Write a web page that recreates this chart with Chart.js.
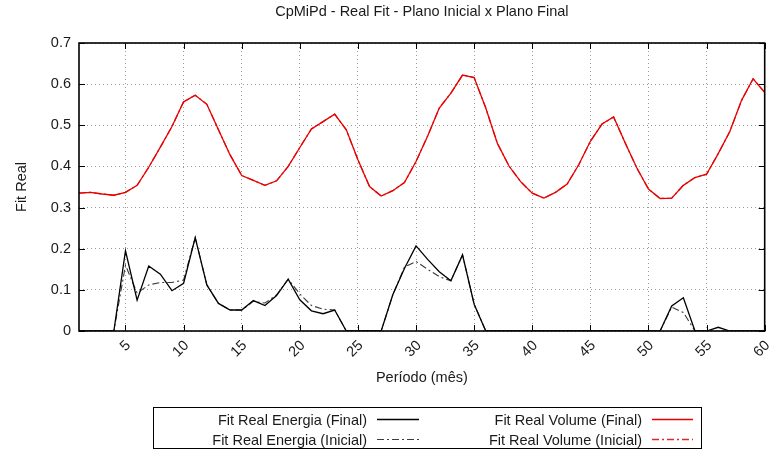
<!DOCTYPE html>
<html>
<head>
<meta charset="utf-8">
<script src="https://cdn.jsdelivr.net/npm/chart.js@4/dist/chart.umd.min.js"></script>
<style>
html,body{margin:0;padding:0;background:#fff;}
#wrap{width:783px;height:466px;position:relative;}
</style>
</head>
<body>
<div id="wrap"><canvas id="c" width="783" height="466"></canvas></div>
<script>
const periods = [1,2,3,4,5,6,7,8,9,10,11,12,13,14,15,16,17,18,19,20,21,22,23,24,25,26,27,28,29,30,31,32,33,34,35,36,37,38,39,40,41,42,43,44,45,46,47,48,49,50,51,52,53,54,55,56,57,58,59,60];
const xTicks = [5,10,15,20,25,30,35,40,45,50,55,60];
const yTicks = [0,0.1,0.2,0.3,0.4,0.5,0.6,0.7];

const energiaFinal = [0,0,0,0,0.195,0.075,0.158,0.138,0.098,0.116,0.227,0.112,0.067,0.051,0.051,0.074,0.062,0.086,0.126,0.076,0.049,0.042,0.051,0,0,0,0,0.088,0.152,0.207,0.174,0.144,0.122,0.185,0.065,0,0,0,0,0,0,0,0,0,0,0,0,0,0,0,0,0.061,0.081,0,0,0.009,0,0,0,0];
const energiaInicial = [0,0,0,0,0.160,0.092,0.112,0.118,0.118,0.124,0.227,0.112,0.067,0.051,0.051,0.072,0.068,0.088,0.126,0.090,0.062,0.053,0.051,0,0,0,0,0.088,0.155,0.169,0.150,0.132,0.122,0.185,0.065,0,0,0,0,0,0,0,0,0,0,0,0,0,0,0,0,0.058,0.045,0,0,0,0,0,0,0];
const volumeFinal = [0.335,0.337,0.333,0.330,0.337,0.354,0.398,0.447,0.497,0.557,0.573,0.551,0.489,0.428,0.378,0.366,0.354,0.365,0.400,0.446,0.491,0.509,0.527,0.489,0.416,0.351,0.328,0.341,0.361,0.412,0.474,0.542,0.578,0.622,0.616,0.542,0.456,0.401,0.363,0.335,0.323,0.337,0.357,0.404,0.461,0.503,0.520,0.457,0.396,0.345,0.322,0.323,0.354,0.373,0.381,0.431,0.485,0.560,0.613,0.580];
const volumeInicial = [0.335,0.337,0.333,0.330,0.337,0.354,0.398,0.447,0.497,0.557,0.573,0.551,0.489,0.428,0.378,0.366,0.354,0.365,0.400,0.446,0.491,0.509,0.527,0.489,0.416,0.351,0.328,0.341,0.361,0.412,0.474,0.542,0.578,0.622,0.616,0.542,0.456,0.401,0.363,0.335,0.323,0.337,0.357,0.404,0.461,0.503,0.520,0.457,0.396,0.345,0.322,0.323,0.354,0.373,0.381,0.431,0.485,0.560,0.613,0.580];

const FONT = 'Liberation Sans, Arial, Helvetica, sans-serif';
const FS = 14.5;
Chart.defaults.font.family = FONT;
Chart.defaults.font.size = FS;
Chart.defaults.color = '#1a1a1a';

const pts = arr => periods.map((p, i) => ({x: p, y: arr[i]}));

const frameTicks = {
  id: 'frameTicks',
  afterDatasetsDraw(chart) {
    const {ctx, chartArea: a, scales} = chart;
    ctx.save();
    ctx.strokeStyle = '#000';
    ctx.lineWidth = 1;
    const L = 6;
    xTicks.forEach(v => {
      const x = Math.round(scales.x.getPixelForValue(v)) + 0.5;
      ctx.beginPath();
      ctx.moveTo(x, a.bottom); ctx.lineTo(x, a.bottom - L);
      ctx.moveTo(x, a.top); ctx.lineTo(x, a.top + L);
      ctx.stroke();
    });
    yTicks.forEach(v => {
      const y = Math.round(scales.y.getPixelForValue(v)) + 0.5;
      ctx.beginPath();
      ctx.moveTo(a.left, y); ctx.lineTo(a.left + L, y);
      ctx.moveTo(a.right, y); ctx.lineTo(a.right - L, y);
      ctx.stroke();
    });
    ctx.lineWidth = 1.6;
    ctx.strokeRect(a.left, a.top, a.right - a.left, a.bottom - a.top);
    ctx.restore();
  }
};

const boxLegend = {
  id: 'boxLegend',
  afterDraw(chart) {
    const {ctx} = chart;
    const box = {l: 153.5, t: 407.5, r: 701.5, b: 448.5};
    ctx.save();
    ctx.setLineDash([]);
    ctx.strokeStyle = '#000';
    ctx.lineWidth = 1;
    ctx.strokeRect(box.l, box.t, box.r - box.l, box.b - box.t);
    const cols = [{textRight: 367, s0: 377, s1: 419}, {textRight: 642, s0: 652, s1: 693}];
    const rows = [419.5, 439.5];
    // [row, col] for each dataset, in dataset order
    const slots = [[0,0],[0,1],[1,0],[1,1]];
    ctx.font = FS + 'px ' + FONT;
    ctx.textAlign = 'right';
    ctx.textBaseline = 'middle';
    chart.data.datasets.forEach((ds, i) => {
      const [r, c] = slots[i];
      const y = rows[r];
      const col = cols[c];
      const o = chart.getDatasetMeta(i).dataset.options;
      ctx.fillStyle = '#1a1a1a';
      ctx.fillText(ds.label, col.textRight, y + 1);
      ctx.save();
      ctx.strokeStyle = o.borderColor;
      ctx.lineWidth = o.borderWidth;
      ctx.setLineDash(o.borderDash || []);
      ctx.beginPath();
      ctx.moveTo(col.s0, y); ctx.lineTo(col.s1, y);
      ctx.stroke();
      ctx.restore();
    });
    ctx.restore();
  }
};

new Chart(document.getElementById('c'), {
  type: 'line',
  data: {
    datasets: [
      {label: 'Fit Real Energia (Final)', data: pts(energiaFinal), borderColor: '#000000', borderWidth: 1.3, pointRadius: 0, tension: 0},
      {label: 'Fit Real Volume (Final)', data: pts(volumeFinal), borderColor: 'rgb(232,0,0)', borderWidth: 1.3, pointRadius: 0, tension: 0},
      {label: 'Fit Real Energia (Inicial)', data: pts(energiaInicial), borderColor: 'rgb(60,60,60)', borderWidth: 1.1, borderDash: [7,3,2,3], pointRadius: 0, tension: 0},
      {label: 'Fit Real Volume (Inicial)', data: pts(volumeInicial), borderColor: 'rgb(222,40,40)', borderWidth: 1.3, borderDash: [7,3,2,3], pointRadius: 0, tension: 0}
    ]
  },
  options: {
    responsive: false,
    animation: false,
    events: [],
    layout: {padding: {left: 0, right: 7, top: 0, bottom: 71}},
    plugins: {
      legend: {display: false},
      tooltip: {enabled: false},
      title: {
        display: true,
        fullSize: false,
        text: 'CpMiPd - Real Fit - Plano Inicial x Plano Final',
        font: {size: FS, weight: 'normal'},
        color: '#1a1a1a',
        padding: {top: 3.3, bottom: 22.3}
      }
    },
    scales: {
      x: {
        type: 'linear',
        min: 1,
        max: 60,
        afterBuildTicks: s => { s.ticks = xTicks.map(v => ({value: v})); },
        afterFit: s => { s.height = 64; },
        ticks: {
          autoSkip: false,
          minRotation: 45,
          maxRotation: 45,
          padding: 6,
          labelOffset: 3,
          color: '#1a1a1a',
          font: {size: FS}
        },
        grid: {color: '#9a9a9a', lineWidth: 1, drawTicks: false},
        border: {display: false, dash: [1,3]},
        title: {display: true, text: 'Período (mês)', font: {size: FS}, color: '#1a1a1a', padding: {top: 0, bottom: 8.5}}
      },
      y: {
        min: 0,
        max: 0.7,
        afterBuildTicks: s => { s.ticks = yTicks.map(v => ({value: v})); },
        afterFit: s => { s.width = 79; },
        ticks: {padding: 8, color: '#1a1a1a', font: {size: FS}},
        grid: {color: '#9a9a9a', lineWidth: 1, drawTicks: false},
        border: {display: false, dash: [1,3]},
        title: {display: true, text: 'Fit Real', font: {size: FS}, color: '#1a1a1a', padding: {top: 13.5, bottom: 0}}
      }
    }
  },
  plugins: [frameTicks, boxLegend]
});
</script>
</body>
</html>
